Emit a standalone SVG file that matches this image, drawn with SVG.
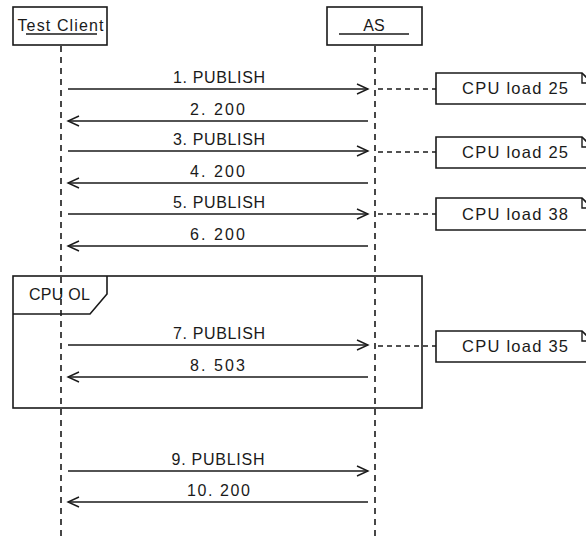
<svg xmlns="http://www.w3.org/2000/svg" width="586" height="537" viewBox="0 0 586 537">
<style>
.box{fill:#fff;stroke:#1a1a1a;stroke-width:1.6}
.life{stroke:#1a1a1a;stroke-width:1.6;stroke-dasharray:6 5;fill:none}
.msg{stroke:#1a1a1a;stroke-width:1.6;fill:none}
.head{stroke:#1a1a1a;stroke-width:1.4;fill:none}
.conn{stroke:#1a1a1a;stroke-width:1.6;stroke-dasharray:5 4;fill:none}
text{font-family:"Liberation Sans",Arial,sans-serif;font-size:16px;fill:#1a1a1a;text-anchor:middle}
.note{font-size:16.5px}
</style>
<rect width="586" height="537" fill="#fff"/>
<g id="frame">
<rect x="13" y="276" width="409" height="132" fill="none" stroke="#1a1a1a" stroke-width="1.6"/>
<path d="M13,314 H90 L107,294 V276" fill="none" stroke="#1a1a1a" stroke-width="1.6"/>
<text x="59.5" y="300" textLength="61" lengthAdjust="spacing">CPU OL</text>
</g>
<g id="lifelines">
<line class="life" x1="61" y1="46" x2="61" y2="537"/>
<line class="life" x1="375" y1="46" x2="375" y2="537"/>
</g>
<g id="client">
<rect class="box" x="13" y="7" width="94" height="38"/>
<text x="60.5" y="31" textLength="86" lengthAdjust="spacing">Test Client</text>
<line x1="26" y1="34" x2="97" y2="34" stroke="#1a1a1a" stroke-width="1.4"/>
</g>
<g id="as">
<rect class="box" x="327" y="7" width="95" height="38"/>
<text x="374" y="31">AS</text>
<line x1="339" y1="34" x2="409" y2="34" stroke="#1a1a1a" stroke-width="1.4"/>
</g>
<g id="connectors">
<line class="msg" x1="68" y1="89" x2="368" y2="89"/><path class="head" d="M357,84 L368,89 L357,94"/>
<line class="msg" x1="68" y1="121" x2="368" y2="121"/><path class="head" d="M79,116 L68,121 L79,126"/>
<line class="msg" x1="68" y1="151" x2="368" y2="151"/><path class="head" d="M357,146 L368,151 L357,156"/>
<line class="msg" x1="68" y1="183" x2="368" y2="183"/><path class="head" d="M79,178 L68,183 L79,188"/>
<line class="msg" x1="68" y1="214" x2="368" y2="214"/><path class="head" d="M357,209 L368,214 L357,219"/>
<line class="msg" x1="68" y1="246" x2="368" y2="246"/><path class="head" d="M79,241 L68,246 L79,251"/>
<line class="msg" x1="68" y1="345" x2="368" y2="345"/><path class="head" d="M357,340 L368,345 L357,350"/>
<line class="msg" x1="68" y1="377" x2="368" y2="377"/><path class="head" d="M79,372 L68,377 L79,382"/>
<line class="msg" x1="68" y1="471" x2="368" y2="471"/><path class="head" d="M357,466 L368,471 L357,476"/>
<line class="msg" x1="68" y1="502" x2="368" y2="502"/><path class="head" d="M79,497 L68,502 L79,507"/>
<line class="conn" x1="378" y1="89" x2="436" y2="89"/>
<line class="conn" x1="378" y1="152" x2="436" y2="152"/>
<line class="conn" x1="378" y1="214" x2="436" y2="214"/>
<line class="conn" x1="378" y1="346" x2="436" y2="346"/>
</g>
<g id="labels">
<text x="219" y="83" textLength="92" lengthAdjust="spacing">1. PUBLISH</text>
<text x="217.5" y="115" textLength="55" lengthAdjust="spacing">2. 200</text>
<text x="219" y="145" textLength="92" lengthAdjust="spacing">3. PUBLISH</text>
<text x="217.5" y="177" textLength="55" lengthAdjust="spacing">4. 200</text>
<text x="219" y="208" textLength="92" lengthAdjust="spacing">5. PUBLISH</text>
<text x="217.5" y="240" textLength="55" lengthAdjust="spacing">6. 200</text>
<text x="219" y="339" textLength="92" lengthAdjust="spacing">7. PUBLISH</text>
<text x="217.5" y="371" textLength="55" lengthAdjust="spacing">8. 503</text>
<text x="218" y="465" textLength="93" lengthAdjust="spacing">9. PUBLISH</text>
<text x="218.5" y="496" textLength="63" lengthAdjust="spacing">10. 200</text>
</g>
<g id="note1">
<path class="box" d="M436,73 H582 L592,83 V104 H436 Z"/><path d="M582,73 V83 H592" fill="none" stroke="#1a1a1a" stroke-width="1.4"/>
<text class="note" x="515" y="94" textLength="106" lengthAdjust="spacing">CPU load 25</text>
</g>
<g id="note2">
<path class="box" d="M436,137 H582 L592,147 V168 H436 Z"/><path d="M582,137 V147 H592" fill="none" stroke="#1a1a1a" stroke-width="1.4"/>
<text class="note" x="515" y="158" textLength="106" lengthAdjust="spacing">CPU load 25</text>
</g>
<g id="note3">
<path class="box" d="M436,198 H582 L592,208 V230 H436 Z"/><path d="M582,198 V208 H592" fill="none" stroke="#1a1a1a" stroke-width="1.4"/>
<text class="note" x="515" y="220" textLength="106" lengthAdjust="spacing">CPU load 38</text>
</g>
<g id="note4">
<path class="box" d="M436,331 H582 L592,341 V362 H436 Z"/><path d="M582,331 V341 H592" fill="none" stroke="#1a1a1a" stroke-width="1.4"/>
<text class="note" x="515" y="352" textLength="106" lengthAdjust="spacing">CPU load 35</text>
</g>
</svg>
